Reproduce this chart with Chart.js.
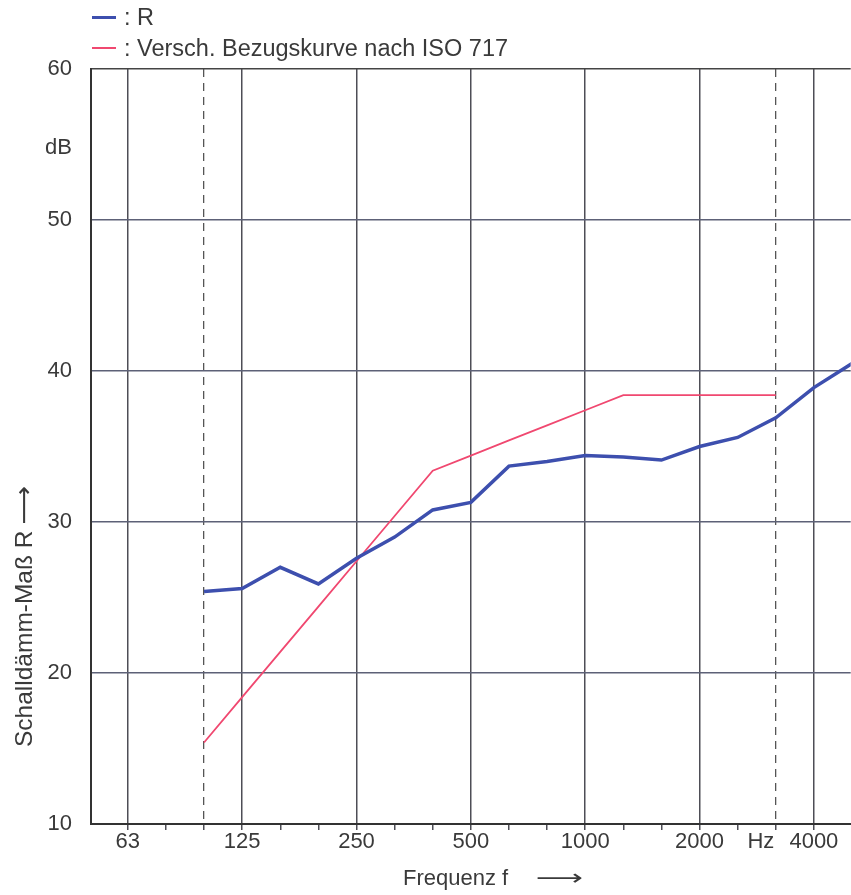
<!DOCTYPE html>
<html>
<head>
<meta charset="utf-8">
<script src="https://cdn.jsdelivr.net/npm/chart.js@4.4.1/dist/chart.umd.min.js"></script>
<style>
  html, body { margin: 0; padding: 0; background: #ffffff; }
  #wrap { position: relative; width: 851px; height: 895px; overflow: hidden; }
  #legend { position: absolute; left: 0; top: 0; font-family: "Liberation Sans", Arial, sans-serif; font-size: 23.5px; color: #3a3a3a; }
  .item { position: absolute; white-space: nowrap; height: 26px; line-height: 26px; }
  .swatch { position: absolute; left: 92px; width: 24px; }
  .lbl { position: absolute; left: 124px; }
</style>
</head>
<body>
<div id="wrap">
  <canvas id="c" width="851" height="895"></canvas>
  <div id="legend"></div>
</div>
<script>
// ---- data ----
const freqR = [100, 125, 160, 200, 250, 315, 400, 500, 630, 800, 1000, 1250, 1600, 2000, 2500, 3150, 4000, 5000];
const valuesR = [25.4, 25.6, 27.0, 25.9, 27.6, 29.0, 30.8, 31.3, 33.7, 34.0, 34.4, 34.3, 34.1, 35.0, 35.6, 36.9, 38.9, 40.5];
const freqRef = [100, 125, 160, 200, 250, 315, 400, 500, 630, 800, 1000, 1250, 1600, 2000, 2500, 3150];
const valuesRef = [15.4, 18.4, 21.4, 24.4, 27.4, 30.4, 33.4, 34.4, 35.4, 36.4, 37.4, 38.4, 38.4, 38.4, 38.4, 38.4];
const octaveTicks = [63, 125, 250, 500, 1000, 2000, 4000];
const octaveLabels = ["63", "125", "250", "500", "1000", "2000", "4000"];
const thirdOctaveTicks = [63, 80, 100, 125, 160, 200, 250, 315, 400, 500, 630, 800, 1000, 1250, 1600, 2000, 2500, 3150, 4000, 5000];
const unitTickX = 2900, unitLabelX = "Hz";
const dashedTicks = [100, 3150];
const yTicks = [10, 20, 30, 40, 50, 60];
const unitTickY = 54.8, unitLabelY = "dB";
const legendLabels = [": R", ": Versch. Bezugskurve nach ISO 717"];
const xTitle = "Frequenz f", yTitle = "Schalldämm-Maß R";

// nominal third-octave band -> exact band centre on the log axis
const band = (f) => 1000 * Math.pow(2, Math.round(3 * Math.log2(f / 1000)) / 3);

const BLUE = "#3d4fae", RED = "#f04870", GRID = "#4e4e56", HGRID = "#5d6177", TEXT = "#3a3a3a";
const FONT = '"Liberation Sans", Arial, "DejaVu Sans", sans-serif';

// legend (HTML)
const legend = document.getElementById('legend');
[[BLUE, 3, 4], [RED, 2, 35]].forEach((s, i) => {
  const it = document.createElement('div');
  it.className = 'item';
  it.style.top = s[2] + 'px';
  it.innerHTML = '<div class="swatch" style="top:' + (13 - s[1] / 2) + 'px;height:' + s[1] + 'px;background:' + s[0] + '"></div><span class="lbl">' + legendLabels[i] + '</span>';
  legend.appendChild(it);
});

const titles = {
  id: 'titles',
  afterDraw(chart) {
    const ctx = chart.ctx;
    ctx.save();
    ctx.fillStyle = TEXT;
    ctx.font = '22px ' + FONT;
    ctx.textBaseline = 'alphabetic';
    ctx.textAlign = 'left';
    ctx.fillText(xTitle, 403, 885);
    ctx.save();
    ctx.translate(536, 885);
    ctx.scale(1.5, 1);
    ctx.fillText('\u27F6', 0, 0);
    ctx.restore();
    ctx.translate(32, 747);
    ctx.rotate(-Math.PI / 2);
    ctx.font = '24.5px ' + FONT;
    ctx.fillText(yTitle, 0, 0);
    const w = ctx.measureText(yTitle).width;
    ctx.translate(w + 6, 0);
    ctx.scale(1.1, 1);
    ctx.fillText('\u27F6', 0, 0);
    ctx.restore();
  }
};

new Chart(document.getElementById('c'), {
  type: 'line',
  data: {
    datasets: [
      { label: 'R', data: freqR.map((f, i) => ({ x: band(f), y: valuesR[i] })), borderColor: BLUE, borderWidth: 3.5, pointRadius: 0, tension: 0, xAxisID: 'x', yAxisID: 'y' },
      { label: 'Ref', data: freqRef.map((f, i) => ({ x: band(f), y: valuesRef[i] })), borderColor: RED, borderWidth: 1.8, pointRadius: 0, tension: 0, xAxisID: 'x', yAxisID: 'y' }
    ]
  },
  options: {
    responsive: false,
    animation: false,
    layout: { padding: { top: 69, left: 0, right: 0, bottom: 0 } },
    plugins: { legend: { display: false }, tooltip: { enabled: false }, title: { display: false } },
    scales: {
      x: {
        type: 'logarithmic', position: 'bottom', min: 50, max: 5000,
        afterBuildTicks: (s) => { s.ticks = thirdOctaveTicks.concat([unitTickX]).sort((a, b) => a - b).map(v => ({ value: v === unitTickX ? v : band(v), nominal: v })); },
        afterFit: (s) => { s.height = 71; },
        ticks: {
          autoSkip: false, maxRotation: 0, minRotation: 0, padding: -1, color: TEXT,
          font: { family: FONT, size: 22 },
          callback: (v, i, ticks) => { const n = ticks[i].nominal; const k = octaveTicks.indexOf(n); if (k >= 0) return octaveLabels[k]; if (n === unitTickX) return unitLabelX; return ''; }
        },
        grid: {
          color: (c) => (c.tick && octaveTicks.includes(c.tick.nominal)) ? GRID : 'rgba(0,0,0,0)',
          tickColor: (c) => (c.tick && thirdOctaveTicks.includes(c.tick.nominal)) ? GRID : 'rgba(0,0,0,0)',
          lineWidth: 1.5, tickLength: 6, tickWidth: 1.5
        },
        border: { display: true, color: '#333', width: 2 }
      },
      x2: {
        type: 'logarithmic', position: 'top', min: 50, max: 5000,
        afterBuildTicks: (s) => { s.ticks = dashedTicks.map(v => ({ value: band(v) })); },
        afterFit: (s) => { s.height = 0; },
        ticks: { display: false },
        grid: { color: '#555', lineWidth: 1.3, drawTicks: false },
        border: { display: false, dash: [8, 6] }
      },
      y: {
        position: 'left', min: 10, max: 60,
        afterBuildTicks: (s) => { s.ticks = yTicks.concat([unitTickY]).sort((a, b) => a - b).map(v => ({ value: v })); },
        afterFit: (s) => { s.width = 91; },
        ticks: {
          autoSkip: false, padding: 19, color: TEXT, font: { family: FONT, size: 22 },
          callback: (v) => v === unitTickY ? unitLabelY : String(v)
        },
        grid: {
          color: (c) => (c.tick && c.tick.value === unitTickY) ? 'rgba(0,0,0,0)' : (c.tick && c.tick.value === 60 ? '#444' : HGRID),
          lineWidth: 1.5, drawTicks: false
        },
        border: { display: true, color: '#333', width: 2 }
      }
    }
  },
  plugins: [titles]
});
</script>
</body>
</html>
